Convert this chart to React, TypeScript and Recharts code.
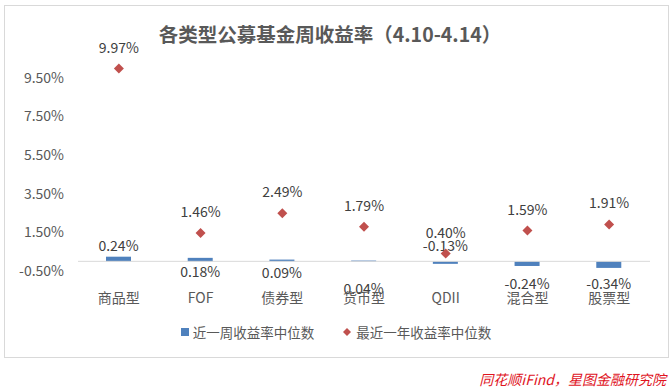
import { ComposedChart, Bar, Scatter, XAxis, YAxis, ReferenceLine } from 'recharts';

const categories = ['商品型', 'FOF', '债券型', '货币型', 'QDII', '混合型', '股票型'];
const weekMedian = [0.24, 0.18, 0.09, 0.04, -0.13, -0.24, -0.34];
const yearMedian = [9.97, 1.46, 2.49, 1.79, 0.4, 1.59, 1.91];
const yTicks = [-0.5, 1.5, 3.5, 5.5, 7.5, 9.5];

// excel placed the bar labels by hand, offsets from the zero line
const barLabelDy = [-16, 10, 11, 27, -16, 22, 22];

const data = categories.map((name, i) => ({ name, week: weekMedian[i], year: yearMedian[i] }));

const FONT = '"Microsoft YaHei", "Noto Sans CJK SC", sans-serif';
const BLUE = '#4F81BD';
const RED = '#C0504D';
const fmt = (v: number) => `${v.toFixed(2)}%`;

function BarShape(props: any) {
  const { x, y, width, height, payload, index } = props;
  const top = Math.min(y, y + height);
  const h = Math.abs(height);
  const zeroY = payload.week >= 0 ? top + h : top;
  return (
    <g>
      <rect x={x} y={top} width={width} height={Math.max(h, 1)} fill={BLUE} />
      <text x={x + width / 2} y={zeroY + barLabelDy[index]} textAnchor="middle" dominantBaseline="central"
        fontSize={14} fill="#404040" fontFamily={FONT}>{fmt(payload.week)}</text>
    </g>
  );
}

function Diamond(props: any) {
  const { cx, cy, payload } = props;
  const r = 5;
  return (
    <g>
      <path d={`M${cx},${cy - r}L${cx + r},${cy}L${cx},${cy + r}L${cx - r},${cy}Z`} fill={RED} />
      <text x={cx} y={cy - 22} textAnchor="middle" dominantBaseline="central"
        fontSize={14} fill="#404040" fontFamily={FONT}>{fmt(payload.year)}</text>
    </g>
  );
}

function LegendBox() {
  return (
    <div style={{ display: 'flex', justifyContent: 'center', alignItems: 'center', fontSize: 13.5, color: '#595959', fontFamily: FONT }}>
      <span style={{ display: 'inline-block', width: 8, height: 8, background: BLUE, marginRight: 4 }} />
      <span style={{ marginRight: 28 }}>近一周收益率中位数</span>
      <svg width={10} height={10} style={{ marginRight: 4 }}>
        <path d="M5,1L9,5L5,9L1,5Z" fill={RED} />
      </svg>
      <span>最近一年收益率中位数</span>
    </div>
  );
}

export default function App() {
  return (
    <div style={{ position: 'absolute', left: 0, top: 0, width: 672, height: 389, background: '#fff', fontFamily: FONT }}>
      <div style={{ position: 'absolute', left: 4, top: 5, width: 663, height: 351, border: '1px solid #d9d9d9' }} />
      <div style={{ position: 'absolute', left: 0, width: 660, top: 19, textAlign: 'center', fontSize: 19.5, fontWeight: 'bold', color: '#595959' }}>
        各类型公募基金周收益率（4.10-4.14）
      </div>
      <div style={{ position: 'absolute', left: 0, top: 0 }}>
        <ComposedChart width={672} height={389} data={data} margin={{ top: 39, right: 22, left: 8, bottom: 88 }}>
          <XAxis dataKey="name" axisLine={false} tickLine={false} height={30} tickMargin={16}
            tick={{ fontSize: 14, fill: '#595959', fontFamily: FONT }} interval={0} />
          <YAxis type="number" domain={[-0.5, 11.5]} ticks={yTicks} width={70} axisLine={false} tickLine={false}
            tickMargin={8} tickFormatter={fmt} tick={{ fontSize: 14, fill: '#595959', fontFamily: FONT }} />
          <ReferenceLine y={0} stroke="#d9d9d9" />
          <Bar dataKey="week" barSize={25} shape={<BarShape />} isAnimationActive={false} />
          <Scatter dataKey="year" shape={<Diamond />} isAnimationActive={false} />
        </ComposedChart>
      </div>
      <div style={{ position: 'absolute', left: 0, width: 672, top: 322 }}>
        <LegendBox />
      </div>
      <div style={{ position: 'absolute', right: 6, top: 369, fontSize: 14, fontStyle: 'italic', color: '#e0141e' }}>
        同花顺iFind，星图金融研究院
      </div>
    </div>
  );
}
